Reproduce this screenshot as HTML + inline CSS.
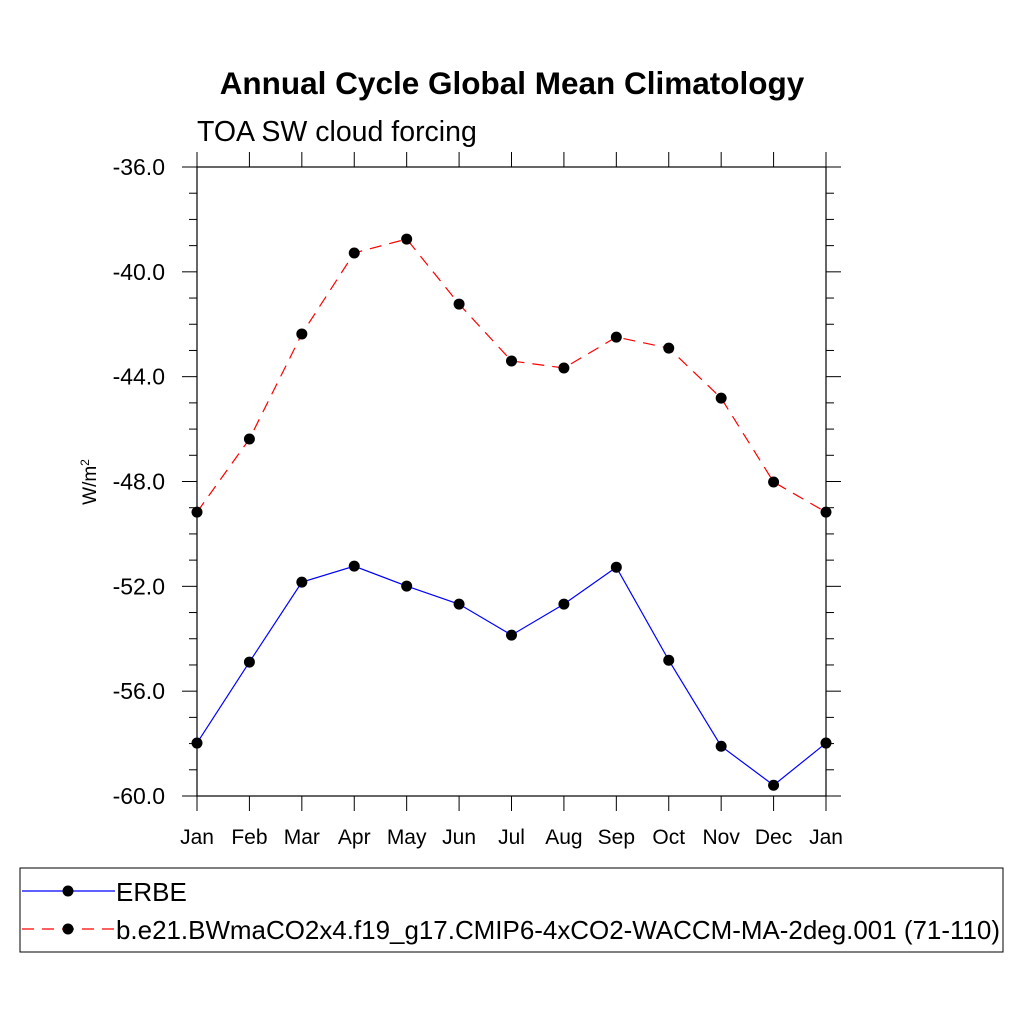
<!DOCTYPE html>
<html><head><meta charset="utf-8"><style>
body{margin:0;background:#fff}
svg text{font-family:"Liberation Sans",sans-serif}
</style></head><body>
<svg id="chart" width="1024" height="1024" viewBox="0 0 1024 1024">
<text x="512" y="94" text-anchor="middle" font-size="31.5" font-weight="bold">Annual Cycle Global Mean Climatology</text>
<text x="197" y="141" font-size="28.5">TOA SW cloud forcing</text>
<text transform="translate(96,482) rotate(-90)" text-anchor="middle" font-size="19">W/m<tspan font-size="12" dy="-7">2</tspan></text>
<rect x="197" y="167" width="629" height="629" fill="none" stroke="#000" stroke-width="1.2"/>
<g id="axes"></g>
<g id="series"></g>
<rect x="20" y="868" width="983" height="84" fill="none" stroke="#000" stroke-width="1"/>
<g>
<line x1="22" y1="891" x2="115" y2="891" stroke="#0000ff" stroke-width="1.2"/>
<circle cx="68" cy="891" r="5.5" fill="#000"/>
<text x="116" y="901" font-size="26">ERBE</text>
</g>
<g>
<line x1="22" y1="929" x2="115" y2="929" stroke="#ff0000" stroke-width="1.2" stroke-dasharray="12,8"/>
<circle cx="68" cy="929" r="5.5" fill="#000"/>
<text x="116" y="939" font-size="26" textLength="884" lengthAdjust="spacingAndGlyphs">b.e21.BWmaCO2x4.f19_g17.CMIP6-4xCO2-WACCM-MA-2deg.001 (71-110)</text>
</g>
</svg>
<script>
const months=["Jan","Feb","Mar","Apr","May","Jun","Jul","Aug","Sep","Oct","Nov","Dec","Jan"];
const erbe=[-57.98,-54.89,-51.84,-51.23,-51.99,-52.68,-53.86,-52.68,-51.27,-54.82,-58.1,-59.59,-57.98];
const model=[-49.17,-46.38,-42.37,-39.28,-38.75,-41.23,-43.4,-43.67,-42.49,-42.91,-44.82,-48.02,-49.17];
const yTicks=[-36,-40,-44,-48,-52,-56,-60];
const yTickLabels=["-36.0","-40.0","-44.0","-48.0","-52.0","-56.0","-60.0"];
const NS="http://www.w3.org/2000/svg";
const X0=197,X1=826,Y0=167,Y1=796,YMAX=-36,YMIN=-60;
const xs=i=>X0+i*(X1-X0)/12;
const ys=v=>Y0+(YMAX-v)*(Y1-Y0)/(YMAX-YMIN);
function mk(t,a,p){const e=document.createElementNS(NS,t);for(const k in a)e.setAttribute(k,a[k]);p.appendChild(e);return e;}
const ax=document.getElementById('axes');
months.forEach((m,i)=>{
 const x=xs(i);
 mk('line',{x1:x,y1:Y1,x2:x,y2:Y1+15,stroke:'#000'},ax);
 mk('line',{x1:x,y1:Y0,x2:x,y2:Y0-15,stroke:'#000'},ax);
 const t=mk('text',{x:x,y:Y1+48,'text-anchor':'middle','font-size':'21'},ax);
 t.textContent=m;
 
 
});
for(let v=-36;v>=-60;v-=1){
 const y=ys(v),maj=(v%4===0),L=maj?15:8;
 mk('line',{x1:X0-L,y1:y,x2:X0,y2:y,stroke:'#000'},ax);
 mk('line',{x1:X1,y1:y,x2:X1+L,y2:y,stroke:'#000'},ax);
}
yTicks.forEach((v,i)=>{
 const t=mk('text',{x:165,y:ys(v)+8,'text-anchor':'end','font-size':'23'},ax);
 t.textContent=yTickLabels[i];
 
 
});
const sg=document.getElementById('series');
function draw(data,color,dash,name){
 const g=mk('g',{},sg);
 
 
 const pl=mk('polyline',{points:data.map((v,i)=>xs(i)+','+ys(v)).join(' '),fill:'none',stroke:color,'stroke-width':1.2},g);
 if(dash)pl.setAttribute('stroke-dasharray',dash);
 data.forEach((v,i)=>{
  const c=mk('circle',{cx:xs(i),cy:ys(v),r:5.5,fill:'#000'},g);
  
  
 });
}
draw(model,'#ff0000','12,8','model-series');
draw(erbe,'#0000ff',null,'erbe-series');
</script>
</body></html>
